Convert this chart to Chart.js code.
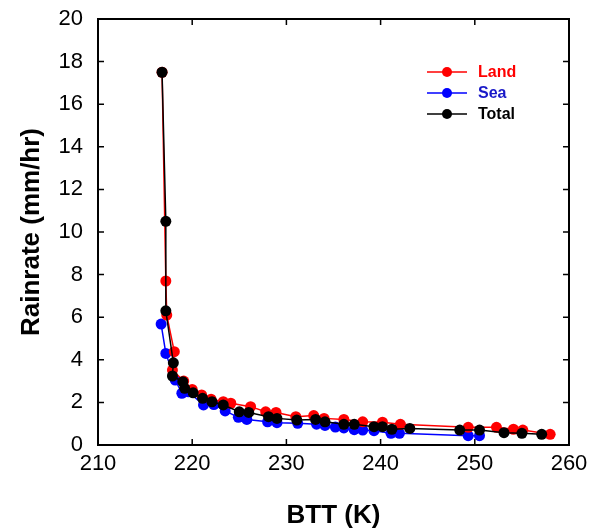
<!DOCTYPE html>
<html>
<head>
<meta charset="utf-8">
<script src="https://cdn.jsdelivr.net/npm/chart.js@4.4.0/dist/chart.umd.min.js"></script>
<style>
  body { margin: 0; background: #fff; }
</style>
</head>
<body>
<canvas id="rainChart" width="591" height="531"></canvas>
<script>
// values
const landBTT  = [216.8, 217.2, 217.3, 218.1, 217.9, 219.1, 220.0, 221.0, 222.0, 223.3, 224.1, 226.2, 227.8, 228.9, 231.0, 232.9, 234.0, 236.1, 238.1, 240.2, 242.1, 249.3, 252.3, 254.1, 255.1, 258.0];
const landRain = [17.5, 7.7, 6.1, 4.38, 3.52, 3.0, 2.61, 2.35, 2.15, 2.03, 1.96, 1.8, 1.56, 1.53, 1.33, 1.38, 1.25, 1.2, 1.09, 1.07, 0.97, 0.83, 0.83, 0.74, 0.7, 0.5];

const seaBTT  = [216.7, 217.2, 218.2, 218.9, 219.6, 221.2, 222.3, 223.5, 224.9, 225.8, 228.0, 229.0, 231.2, 233.2, 234.1, 235.2, 236.1, 237.2, 238.1, 239.3, 241.1, 242.0, 249.3, 250.5];
const seaRain = [5.68, 4.3, 3.05, 2.43, 2.5, 1.88, 1.9, 1.6, 1.3, 1.2, 1.09, 1.05, 1.02, 0.98, 0.92, 0.84, 0.8, 0.72, 0.7, 0.67, 0.55, 0.55, 0.44, 0.44];

const totalBTT  = [216.8, 217.2, 217.2, 218.0, 217.9, 219.0, 219.2, 220.1, 221.1, 222.1, 223.3, 225.0, 226.0, 228.1, 229.0, 231.1, 233.1, 234.1, 236.1, 237.2, 239.3, 240.2, 241.2, 243.1, 248.4, 250.5, 253.1, 255.0, 257.1];
const totalRain = [17.5, 10.5, 6.3, 3.86, 3.24, 2.97, 2.66, 2.45, 2.19, 2.03, 1.88, 1.56, 1.53, 1.33, 1.25, 1.17, 1.2, 1.09, 0.97, 0.97, 0.86, 0.86, 0.74, 0.78, 0.7, 0.7, 0.58, 0.55, 0.5];

const xTicks = [210, 220, 230, 240, 250, 260];
const yTicks = [0, 2, 4, 6, 8, 10, 12, 14, 16, 18, 20];

const legendItems = [
  { label: 'Land',  line: '#ff0000', text: '#ff0000' },
  { label: 'Sea',   line: '#0000ff', text: '#1818c8' },
  { label: 'Total', line: '#000000', text: '#000000' }
];

function pairs(xs, ys) {
  return xs.map((x, i) => ({ x: x, y: ys[i] }));
}

const FONT = '"Liberation Sans", Arial, sans-serif';

// fixed scale box sizes, no extra label overflow padding
function pinScale(s, size) {
  if (s.isHorizontal()) s.height = size; else s.width = size;
  s.paddingTop = 0; s.paddingBottom = 0;
  s.paddingLeft = 0; s.paddingRight = 0;
}

// frame with inward ticks on all four sides, plus the legend box
const framePlugin = {
  id: 'frame',
  afterDraw(chart) {
    const ctx = chart.ctx;
    const a = chart.chartArea;
    const xs = chart.scales.x, ys = chart.scales.y;
    ctx.save();
    ctx.strokeStyle = '#000';
    ctx.lineWidth = 2;
    ctx.strokeRect(a.left, a.top, a.right - a.left, a.bottom - a.top);
    ctx.lineWidth = 1.5;
    ctx.beginPath();
    xTicks.forEach(v => {
      const px = xs.getPixelForValue(v);
      ctx.moveTo(px, a.bottom); ctx.lineTo(px, a.bottom - 6);
      ctx.moveTo(px, a.top); ctx.lineTo(px, a.top + 6);
    });
    yTicks.forEach(v => {
      const py = ys.getPixelForValue(v);
      ctx.moveTo(a.left, py); ctx.lineTo(a.left + 6, py);
      ctx.moveTo(a.right, py); ctx.lineTo(a.right - 6, py);
    });
    ctx.stroke();

    ctx.font = 'bold 16px ' + FONT;
    ctx.textBaseline = 'middle';
    legendItems.forEach((it, i) => {
      const y = 72 + i * 21;
      ctx.strokeStyle = it.line;
      ctx.lineWidth = 1.5;
      ctx.beginPath();
      ctx.moveTo(427, y); ctx.lineTo(467, y);
      ctx.stroke();
      ctx.fillStyle = it.line;
      ctx.beginPath();
      ctx.arc(447, y, 5, 0, Math.PI * 2);
      ctx.fill();
      ctx.fillStyle = it.text;
      ctx.fillText(it.label, 478, y + 1);
    });
    ctx.restore();
  }
};

const ctx = document.getElementById('rainChart').getContext('2d');
const rainChart = new Chart(ctx, {
  type: 'line',
  data: {
    datasets: [{
      label: 'Land',
      data: pairs(landBTT, landRain),
      borderColor: '#ff0000',
      backgroundColor: '#ff0000',
      order: 1
    }, {
      label: 'Sea',
      data: pairs(seaBTT, seaRain),
      borderColor: '#0000ff',
      backgroundColor: '#0000ff',
      order: 2
    }, {
      label: 'Total',
      data: pairs(totalBTT, totalRain),
      borderColor: '#000000',
      backgroundColor: '#000000',
      order: 0
    }]
  },
  options: {
    responsive: false,
    animation: false,
    datasets: {
      line: {
        borderWidth: 1.5,
        pointRadius: 5.5,
        pointBorderWidth: 0,
        tension: 0,
        fill: false
      }
    },
    layout: { padding: { left: 0, right: 22, top: 19, bottom: 0 } },
    plugins: {
      legend: { display: false },
      tooltip: { enabled: false }
    },
    scales: {
      x: {
        type: 'linear',
        min: 210,
        max: 260,
        afterBuildTicks: s => { s.ticks = xTicks.map(v => ({ value: v })); },
        afterFit: s => pinScale(s, 86),
        grid: { display: false, drawTicks: false },
        border: { display: false },
        ticks: { color: '#000', font: { family: FONT, size: 22 }, padding: 6, maxRotation: 0 },
        title: {
          display: true,
          text: 'BTT (K)',
          color: '#000',
          font: { family: FONT, size: 26, weight: 'bold' },
          padding: { top: 0, bottom: 0 }
        }
      },
      y: {
        min: 0,
        max: 20,
        afterBuildTicks: s => { s.ticks = yTicks.map(v => ({ value: v })); },
        afterFit: s => pinScale(s, 98),
        grid: { display: false, drawTicks: false },
        border: { display: false },
        ticks: { color: '#000', font: { family: FONT, size: 22 }, padding: 15 },
        title: {
          display: true,
          text: 'Rainrate (mm/hr)',
          color: '#000',
          font: { family: FONT, size: 26, weight: 'bold' },
          padding: { top: 16, bottom: 0 }
        }
      }
    }
  },
  plugins: [framePlugin]
});
</script>
</body>
</html>
